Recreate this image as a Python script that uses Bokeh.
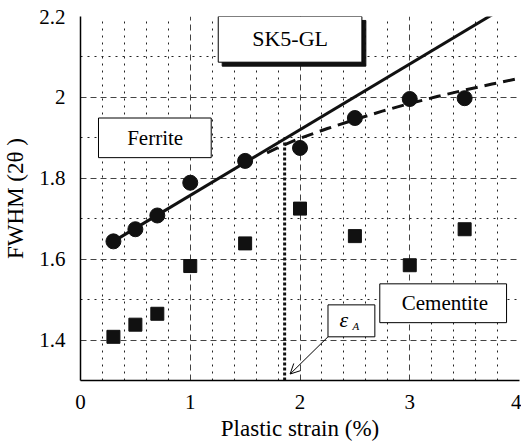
from bokeh.plotting import figure
from bokeh.models import (Range1d, FixedTicker, CustomJSTickFormatter, BoxAnnotation,
                          Label, Arrow, OpenHead)
from bokeh.embed import file_html
from bokeh.resources import INLINE

# Measured FWHM values against plastic strain
strain = [0.3, 0.5, 0.7, 1.0, 1.5, 2.0, 2.5, 3.0, 3.5]
ferrite_fwhm = [1.644, 1.674, 1.708, 1.789, 1.843, 1.875, 1.949, 1.996, 1.998]
cementite_fwhm = [1.408, 1.438, 1.465, 1.583, 1.639, 1.725, 1.657, 1.585, 1.674]

# Linear fit of the ferrite points in the early stage
linear_fit_x = [0.3, 4.0]
linear_fit_y = [1.644, 2.245]

# Saturating trend of the ferrite points at larger strain
trend_x = [1.70, 1.85, 2.0, 2.25, 2.5, 2.75, 3.0, 3.25, 3.5, 3.75, 4.0]
trend_y = [1.863, 1.882, 1.899, 1.923, 1.945, 1.966, 1.985, 2.002, 2.018, 2.033, 2.047]

# Critical strain where the two trends separate
eps_a = 1.86
eps_a_top = 1.893

x_ticks = [0, 1, 2, 3, 4]
x_minor = [0.2, 0.4, 0.6, 0.8, 1.2, 1.4, 1.6, 1.8, 2.2, 2.4, 2.6, 2.8, 3.2, 3.4, 3.6, 3.8]
y_ticks = [1.4, 1.6, 1.8, 2.0, 2.2]
y_minor = [1.5, 1.7, 1.9, 2.1]

FONT = "Liberation Serif"
INK = "#111111"

p = figure(width=521, height=443, output_backend="svg", toolbar_location=None,
           x_range=Range1d(0, 4), y_range=Range1d(1.3, 2.2),
           min_border_left=80, min_border_right=2, min_border_top=16, min_border_bottom=61)
p.outline_line_color = None

p.xaxis.ticker = FixedTicker(ticks=x_ticks, minor_ticks=x_minor)
p.yaxis.ticker = FixedTicker(ticks=y_ticks, minor_ticks=y_minor)
p.yaxis.formatter = CustomJSTickFormatter(code="return tick.toFixed(1).replace(/\\.0$/, '');")
p.xaxis.formatter = CustomJSTickFormatter(code="return tick.toFixed(0);")

for ax in (p.xaxis, p.yaxis):
    ax.major_tick_line_color = None
    ax.minor_tick_line_color = None
    ax.axis_line_color = "black"
    ax.axis_line_width = 1.5
    ax.major_label_text_font = FONT
    ax.major_label_text_font_size = "21px"
    ax.major_label_text_color = "black"
    ax.axis_label_text_font = FONT
    ax.axis_label_text_font_size = "23px"
    ax.axis_label_text_font_style = "normal"
    ax.axis_label_text_color = "black"

p.xaxis.axis_label = "Plastic strain (%)"
p.yaxis.axis_label = "FWHM (2θ )"
p.xaxis.major_label_standoff = 8
p.yaxis.major_label_standoff = 9
p.xaxis.axis_label_standoff = 4
p.yaxis.axis_label_standoff = 8

for g in (p.xgrid, p.ygrid):
    g.grid_line_color = "#444444"
    g.grid_line_dash = "6 4"
    g.grid_line_width = 1
    g.minor_grid_line_color = "#222222"
    g.minor_grid_line_dash = "2 5"
    g.minor_grid_line_width = 1

# Fit lines
p.line(linear_fit_x, linear_fit_y, line_color=INK, line_width=3)
p.line(trend_x, trend_y, line_color=INK, line_width=3, line_dash="12 7")

# Critical strain marker
p.line([eps_a, eps_a], [1.3, eps_a_top], line_color=INK, line_width=3, line_dash="3 2")

# Data points
p.scatter(strain, ferrite_fwhm, marker="circle", size=15, fill_color=INK, line_color=INK)
p.scatter(strain, cementite_fwhm, marker="square", size=13, fill_color=INK, line_color=INK)

# Text boxes
def text_box(left, right, bottom, top, shadow=False):
    if shadow:
        p.add_layout(BoxAnnotation(left=left + 0.036, right=right + 0.036,
                                   bottom=bottom - 0.0098, top=top - 0.0098,
                                   fill_color=INK, fill_alpha=1, line_color=INK, line_alpha=1))
    p.add_layout(BoxAnnotation(left=left, right=right, bottom=bottom, top=top,
                               fill_color="white", fill_alpha=1, line_color="black",
                               line_alpha=1, line_width=1))

text_box(1.255, 2.564, 2.087, 2.2, shadow=True)
text_box(0.164, 1.191, 1.851, 1.949)
text_box(2.727, 3.882, 1.443, 1.539)
text_box(2.255, 2.682, 1.408, 1.487)

def caption(x, y, txt, size="21px", italic=False):
    lab = Label(x=x, y=y, text=txt, text_font=FONT, text_font_size=size,
                text_align="center", text_baseline="middle", text_color="black")
    if italic:
        lab.text_font_style = "italic"
    p.add_layout(lab)

caption(1.91, 2.145, "SK5-GL", size="22px")
caption(0.68, 1.90, "Ferrite")
caption(3.32, 1.491, "Cementite")
caption(2.40, 1.452, "ε", size="22px", italic=True)
caption(2.51, 1.434, "A", size="11px", italic=True)

p.add_layout(Arrow(end=OpenHead(size=10, line_width=1, line_color="black"),
                   x_start=2.255, y_start=1.408, x_end=1.91, y_end=1.316,
                   line_width=1, line_color="black"))

open("out.html", "w").write(file_html(p, INLINE))
